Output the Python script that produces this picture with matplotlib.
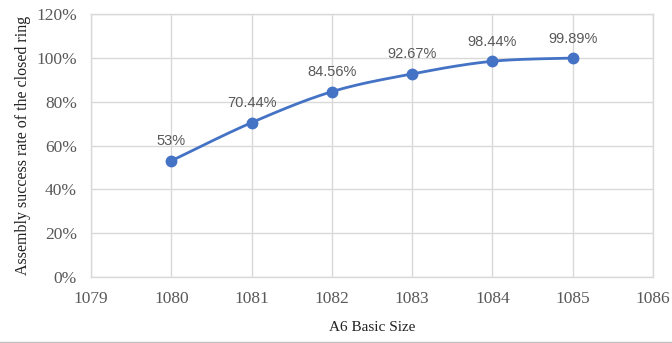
import numpy as np
import matplotlib
matplotlib.use("Agg")
import matplotlib.pyplot as plt
from matplotlib.ticker import FuncFormatter

# A6 basic size vs. assembly success rate of the closed ring
sizes = [1080, 1081, 1082, 1083, 1084, 1085]
rates = [53.00, 70.44, 84.56, 92.67, 98.44, 99.89]
labels = ["53%", "70.44%", "84.56%", "92.67%", "98.44%", "99.89%"]

LINE = "#4472C4"
GRID = "#D9D9D9"
TEXT = "#595959"


def smooth(x, y, tension=0.5, n=30):
    # cardinal spline through the points, like a spreadsheet "smoothed line"
    x = np.asarray(x, float)
    y = np.asarray(y, float)
    px = np.concatenate([[x[0]], x, [x[-1]]])
    py = np.concatenate([[y[0]], y, [y[-1]]])
    xs, ys = [], []
    t = np.linspace(0, 1, n)
    for i in range(1, len(px) - 2):
        p0, p1, p2, p3 = (np.array([px[j], py[j]]) for j in (i - 1, i, i + 1, i + 2))
        m1 = tension * (p2 - p0)
        m2 = tension * (p3 - p1)
        h00 = 2 * t**3 - 3 * t**2 + 1
        h10 = t**3 - 2 * t**2 + t
        h01 = -2 * t**3 + 3 * t**2
        h11 = t**3 - t**2
        pts = (np.outer(h00, p1) + np.outer(h10, m1) + np.outer(h01, p2) + np.outer(h11, m2))
        xs.extend(pts[:, 0])
        ys.extend(pts[:, 1])
    return np.array(xs), np.array(ys)


fig = plt.figure(figsize=(6.72, 3.43), dpi=100)
ax = fig.add_axes([91 / 672, 1 - 277 / 343, 562 / 672, 263 / 343])

sx, sy = smooth(sizes, rates)
ax.plot(sx, sy, color=LINE, lw=2, solid_capstyle="round", zorder=3)
ax.plot(sizes, rates, "o", color=LINE, ms=7.5, zorder=4)

for x, y, s in zip(sizes, rates, labels):
    ax.annotate(s, (x, y), xytext=(0, 9), textcoords="offset points",
                ha="center", va="bottom", fontsize=10.5, color=TEXT,
                family=["Liberation Sans", "DejaVu Sans"])

ax.set_xlim(1079, 1086)
ax.set_ylim(0, 120)
ax.set_xticks(range(1079, 1087))
ax.set_yticks(range(0, 121, 20))
ax.yaxis.set_major_formatter(FuncFormatter(lambda v, _: f"{v:.0f}%"))
ax.grid(True, color=GRID, lw=1)
ax.set_axisbelow(True)
for sp in ax.spines.values():
    sp.set_color(GRID)
    sp.set_linewidth(1)
ax.tick_params(length=0, labelsize=12.5, colors=TEXT)
ax.tick_params(axis="x", pad=10)
ax.tick_params(axis="y", pad=10)
for lab in ax.get_xticklabels() + ax.get_yticklabels():
    lab.set_family("Liberation Serif")

ax.set_xlabel("A6 Basic Size", family="Liberation Serif", fontsize=11,
              color="#222222", labelpad=10)
ax.set_ylabel("Assembly success rate of the closed ring", family="Liberation Serif",
              fontsize=11.5, color="#222222", labelpad=4)

# thin rule under the chart
fig.add_artist(plt.Line2D([0, 1], [0.004, 0.004], color="#BFBFBF", lw=1))

fig.savefig("out.png", dpi=100)
